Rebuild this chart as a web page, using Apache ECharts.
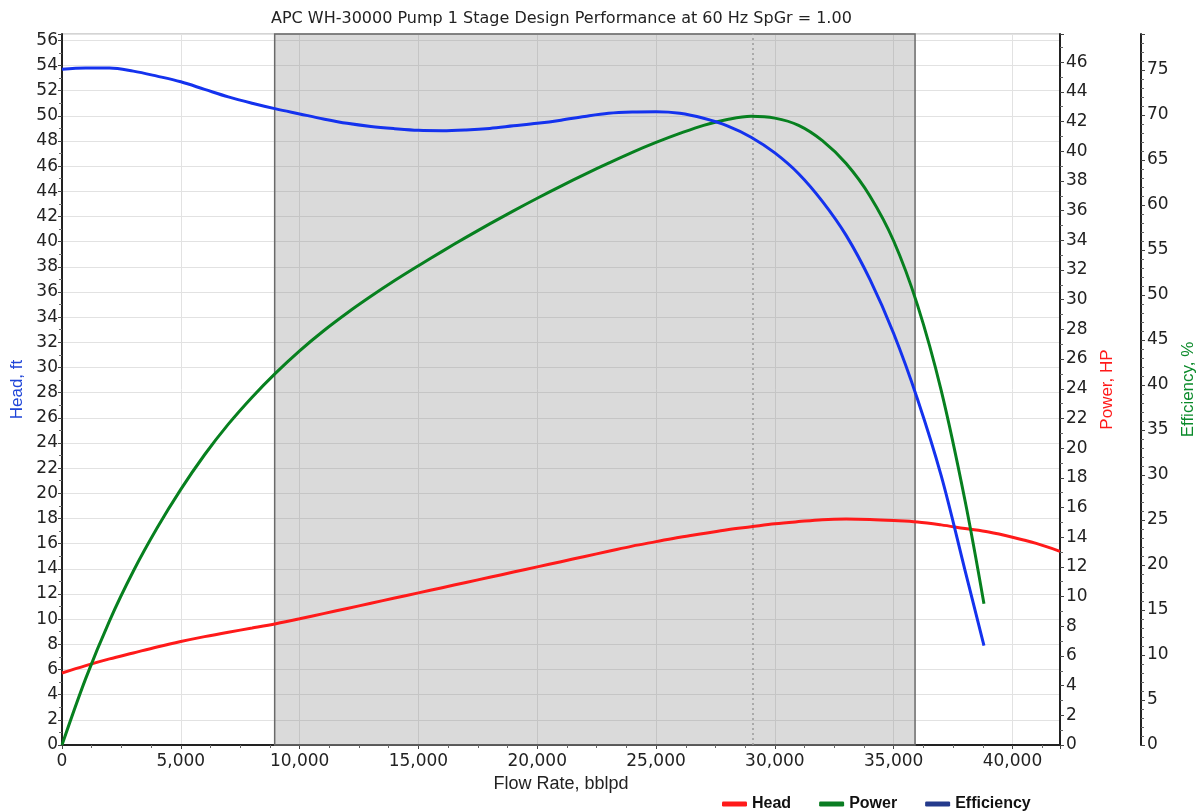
<!DOCTYPE html>
<html>
<head>
<meta charset="utf-8">
<script src="https://cdn.jsdelivr.net/npm/echarts@6/dist/echarts.min.js"></script>
<style>
html,body{margin:0;padding:0;background:#fff;}
#chart{width:1198px;height:812px;}
</style>
</head>
<body>
<div id="chart"></div>
<script>
// ---- data ----
const titleText = 'APC WH-30000 Pump 1 Stage Design Performance at 60 Hz SpGr = 1.00';
const flowRate = [0,1000,2000,3000,4000,5000,6000,7000,8000,9000,10000,11000,12000,13000,14000,15000,16000,17000,18000,19000,20000,21000,22000,23000,24000,25000,26000,27000,28000,29000,30000,31000,32000,33000,34000,35000,36000,37000,38000,38800];
const headFt = [53.7,53.8,53.8,53.55,53.15,52.7,52.1,51.5,51.0,50.55,50.15,49.75,49.4,49.15,48.98,48.85,48.82,48.88,49.0,49.2,49.4,49.65,49.95,50.2,50.3,50.32,50.2,49.8,49.2,48.3,47.05,45.4,43.2,40.5,37.0,32.7,27.5,21.4,13.9,7.9];
const efficiencyPct = [0,7.4,13.8,19.3,24.1,28.4,32.25,35.65,38.65,41.35,43.8,46.0,48.0,49.85,51.6,53.25,54.85,56.4,57.9,59.35,60.75,62.1,63.4,64.65,65.85,66.95,67.95,68.85,69.5,69.85,69.65,68.85,67.15,64.6,61.0,56.0,48.9,39.4,27.2,15.7];
const flowRatePower = [0,1000,2000,3000,4000,5000,6000,7000,8000,9000,10000,11000,12000,13000,14000,15000,16000,17000,18000,19000,20000,21000,22000,23000,24000,25000,26000,27000,28000,29000,30000,31000,32000,33000,34000,35000,36000,37000,38000,39000,40000,41000,42000];
const powerHP = [4.85,5.35,5.8,6.2,6.6,6.97,7.3,7.6,7.88,8.17,8.5,8.85,9.2,9.55,9.9,10.25,10.6,10.95,11.3,11.65,12.0,12.35,12.7,13.05,13.4,13.7,14.0,14.25,14.5,14.7,14.9,15.05,15.18,15.22,15.2,15.13,15.03,14.83,14.58,14.35,14.0,13.58,13.05];
const operatingRange = [8950, 35900];
const bepFlow = 29050;
const legendNames = ['Head','Power','Efficiency'];
const legendColors = ['#ff1a1a','#0a7d22','#243a8c'];

// ---- chart ----
const FONT = 'DejaVu Sans, Verdana, sans-serif';
const AFONT = 'Liberation Sans, Arial, sans-serif';
const chart = echarts.init(document.getElementById('chart'), null, {renderer:'canvas'});
const zip = (xs, ys) => xs.map((x,i)=>[x, ys[i]]);
const fmt = v => Math.round(v).toLocaleString('en-US');

const option = {
  backgroundColor:'#fff',
  animation:false,
  title:{text:titleText,left:271,top:11,textStyle:{fontFamily:FONT,fontSize:16,fontWeight:'normal',color:'#222'},padding:0},
  grid:{left:62,right:138,top:34,bottom:67,show:true,borderColor:'#a8a8a8',borderWidth:1,backgroundColor:'transparent',containLabel:false,outerBoundsMode:'none'},
  legend:{
    left:717, top:791, icon:'roundRect', itemWidth:25, itemHeight:5, itemGap:28,
    textStyle:{fontFamily:AFONT,fontSize:16,fontWeight:'bold',color:'#111'},
    data: legendNames.map((n,i)=>({name:n,itemStyle:{color:legendColors[i]},lineStyle:{color:legendColors[i]}}))
  },
  xAxis:{
    type:'value', min:0, max:42000, interval:5000,
    name:'Flow Rate, bblpd', nameLocation:'middle', nameGap:25,
    nameTextStyle:{fontFamily:AFONT,fontSize:18,color:'#222'},
    axisLine:{show:true,lineStyle:{color:'#222',width:2}},
    axisTick:{show:true,length:4,lineStyle:{color:'#444'}},
    minorTick:{show:true,splitNumber:4,length:3,lineStyle:{color:'#666'}},
    axisLabel:{fontFamily:FONT,fontSize:17,color:'#222',margin:8,formatter:fmt,showMaxLabel:false},
    splitLine:{show:true,lineStyle:{color:'#e2e2e2',width:1}}
  },
  yAxis:[
    {
      type:'value', min:0, max:56.5, interval:2, position:'left',
      name:'Head, ft', nameLocation:'middle', nameGap:33, nameRotate:90,
      nameTextStyle:{fontFamily:AFONT,fontSize:17,color:'#1f45d8'},
      axisLine:{show:true,lineStyle:{color:'#222',width:2}},
      axisTick:{show:true,length:4,lineStyle:{color:'#444'}},
      minorTick:{show:true,splitNumber:2,length:3,lineStyle:{color:'#666'}},
      axisLabel:{fontFamily:FONT,fontSize:17,color:'#222',margin:4,showMaxLabel:false},
      splitLine:{show:true,lineStyle:{color:'#e2e2e2',width:1}}
    },
    {
      type:'value', min:0, max:47.9, interval:2, position:'right',
      name:'Power, HP', nameLocation:'middle', nameGap:29, nameRotate:90,
      nameTextStyle:{fontFamily:AFONT,fontSize:17,color:'#ff1a1a'},
      axisLine:{show:true,lineStyle:{color:'#222',width:2}},
      axisTick:{show:true,length:4,lineStyle:{color:'#444'}},
      minorTick:{show:true,splitNumber:2,length:3,lineStyle:{color:'#666'}},
      axisLabel:{fontFamily:FONT,fontSize:17,color:'#222',margin:6,showMaxLabel:false},
      splitLine:{show:false}
    },
    {
      type:'value', min:0, max:79, interval:5, position:'right', offset:81,
      name:'Efficiency, %', nameLocation:'middle', nameGap:36, nameRotate:90,
      nameTextStyle:{fontFamily:AFONT,fontSize:17,color:'#0a8a2a'},
      axisLine:{show:true,lineStyle:{color:'#222',width:2}},
      axisTick:{show:true,length:4,lineStyle:{color:'#444'}},
      minorTick:{show:true,splitNumber:5,length:3,lineStyle:{color:'#666'}},
      axisLabel:{fontFamily:FONT,fontSize:17,color:'#222',margin:6,showMaxLabel:false},
      splitLine:{show:false}
    }
  ],
  series:[
    {
      name:'Head', type:'line', yAxisIndex:0, smooth:0.35, showSymbol:false, z:5,
      lineStyle:{color:'#1432ee',width:3}, itemStyle:{color:'#1432ee'},
      data:zip(flowRate, headFt),
      markArea:{silent:true,itemStyle:{color:'rgba(120,120,120,0.27)',borderColor:'#6a6a6a',borderWidth:1.5},
        data:[[{xAxis:operatingRange[0]},{xAxis:operatingRange[1]}]]},
      markLine:{silent:true,symbol:'none',label:{show:false},
        lineStyle:{color:'#9a9a9a',type:[2,3],width:1.5},data:[{xAxis:bepFlow}]}
    },
    {
      name:'Power', type:'line', yAxisIndex:1, smooth:0.35, showSymbol:false, z:4,
      lineStyle:{color:'#ff1a1a',width:3}, itemStyle:{color:'#ff1a1a'},
      data:zip(flowRatePower, powerHP)
    },
    {
      name:'Efficiency', type:'line', yAxisIndex:2, smooth:0.35, showSymbol:false, z:4,
      lineStyle:{color:'#07801f',width:3}, itemStyle:{color:'#07801f'},
      data:zip(flowRate, efficiencyPct)
    }
  ]
};
chart.setOption(option);
</script>
</body>
</html>
